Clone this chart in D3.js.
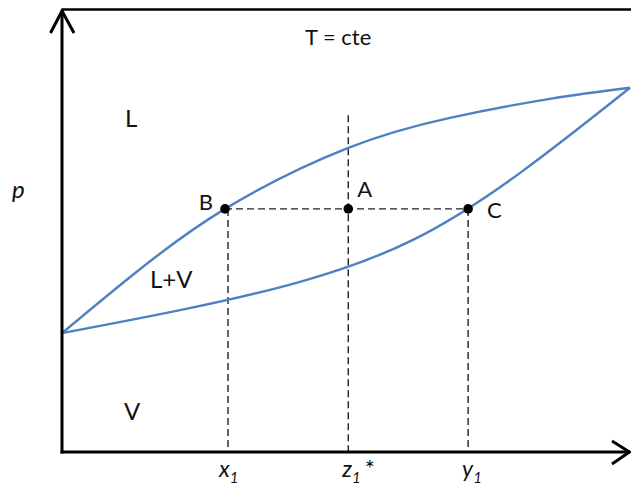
<!DOCTYPE html>
<html>
<head>
<meta charset="utf-8">
<script src="https://cdn.jsdelivr.net/npm/d3@7"></script>
<style>
  html, body { margin: 0; padding: 0; background: #fff; }
  svg { display: block; }
  text { font-family: Lato, "Open Sans", sans-serif; fill: #111; }
</style>
</head>
<body>
<svg id="chart" width="631" height="485"></svg>
<script>
// Isothermal p–x diagram of a binary mixture (mole fraction vs pressure)
const bubbleComp = [0, 0.120, 0.287, 0.504, 0.683, 0.859, 1];
const bubbleP    = [0.269, 0.396, 0.550, 0.688, 0.756, 0.799, 0.824];

const dewComp = [0, 0.208, 0.419, 0.618, 0.806, 1];
const dewP    = [0.269, 0.321, 0.385, 0.480, 0.631, 0.824];

// Tie line at pressure tieP: liquid B, feed A, vapour C
const pointNames = ["B", "A", "C"];
const pointComp  = [0.287, 0.504, 0.715];
const tieP = 0.550;
const feedTopP = 0.762;

const tickMain = ["x", "z", "y"];
const tickSub  = ["1", "1", "1"];
const tickSup  = ["", "*", ""];

const regionNames = ["L", "L+V", "V"];
const regionComp  = [0.111, 0.155, 0.109];
const regionP     = [0.735, 0.371, 0.072];

const svg = d3.select("#chart");
const x = d3.scaleLinear().domain([0, 1]).range([62, 630]);
const y = d3.scaleLinear().domain([0, 1]).range([452, 10]);

const blue = "#4f81c2";
const line = d3.line().x(d => x(d[0])).y(d => y(d[1])).curve(d3.curveNatural);

// top frame line
svg.append("line").attr("x1", x(0)).attr("x2", 631).attr("y1", 9.5).attr("y2", 9.5)
  .attr("stroke", "#000").attr("stroke-width", 2.5);

// dashed guides
function dashed(x1, y1, x2, y2) {
  svg.append("line").attr("x1", x1).attr("y1", y1).attr("x2", x2).attr("y2", y2)
    .attr("stroke", "#222").attr("stroke-width", 1.4).attr("stroke-dasharray", "7,4");
}
dashed(x(pointComp[0]), y(tieP), x(pointComp[2]), y(tieP));
dashed(x(pointComp[0]) + 3, y(tieP), x(pointComp[0]) + 3, y(0));
dashed(x(pointComp[1]), y(feedTopP), x(pointComp[1]), y(0));
dashed(x(pointComp[2]), y(tieP), x(pointComp[2]), y(0));

// bubble and dew curves
svg.append("path").datum(bubbleComp.map((c, i) => [c, bubbleP[i]]))
  .attr("d", line).attr("fill", "none").attr("stroke", blue).attr("stroke-width", 2.4);
svg.append("path").datum(dewComp.map((c, i) => [c, dewP[i]]))
  .attr("d", line).attr("fill", "none").attr("stroke", blue).attr("stroke-width", 2.4);

// axes with open arrowheads
svg.append("line").attr("x1", x(0)).attr("y1", y(0) + 1.5).attr("x2", x(0)).attr("y2", 10)
  .attr("stroke", "#000").attr("stroke-width", 3);
svg.append("line").attr("x1", x(0) - 1.5).attr("y1", y(0)).attr("x2", 630).attr("y2", y(0))
  .attr("stroke", "#000").attr("stroke-width", 3);
svg.append("path").attr("d", "M50.5,33 L62,11 L74,33").attr("fill", "none")
  .attr("stroke", "#000").attr("stroke-width", 3);
svg.append("path").attr("d", "M612,441 L629.5,452 L612,464").attr("fill", "none")
  .attr("stroke", "#000").attr("stroke-width", 3);

// tie-line points
svg.selectAll("circle.pt").data(pointComp).join("circle").attr("class", "pt")
  .attr("cx", d => x(d)).attr("cy", y(tieP)).attr("r", 4.8).attr("fill", "#000");

const ptOffsets = [[-12, 1, "end"], [9, -12, "start"], [19, 9, "start"]];
svg.selectAll("text.pt").data(pointNames).join("text").attr("class", "pt")
  .attr("x", (d, i) => x(pointComp[i]) + ptOffsets[i][0])
  .attr("y", (d, i) => y(tieP) + ptOffsets[i][1])
  .attr("text-anchor", (d, i) => ptOffsets[i][2])
  .attr("font-size", 22).text(d => d);

// tick labels under the composition axis
const ticks = svg.selectAll("text.tick").data(tickMain).join("text").attr("class", "tick")
  .attr("x", (d, i) => x(pointComp[i]) - 6)
  .attr("y", 477).attr("font-style", "italic").attr("font-size", 23);
ticks.append("tspan").text(d => d);
ticks.append("tspan").attr("font-size", 15).attr("dy", 6).text((d, i) => tickSub[i]);
ticks.append("tspan").attr("font-size", 24).attr("font-style", "normal")
  .attr("dy", -6).attr("dx", 4).text((d, i) => tickSup[i]);

// phase region labels
svg.selectAll("text.region").data(regionNames).join("text").attr("class", "region")
  .attr("x", (d, i) => x(regionComp[i])).attr("y", (d, i) => y(regionP[i]))
  .attr("font-size", 24).text(d => d);

// title and axis name
svg.append("text").attr("x", 305).attr("y", 45).attr("font-size", 22).text("T = cte");
svg.append("text").attr("x", 12).attr("y", 198).attr("font-size", 24)
  .attr("font-style", "italic").text("p");
</script>
</body>
</html>
